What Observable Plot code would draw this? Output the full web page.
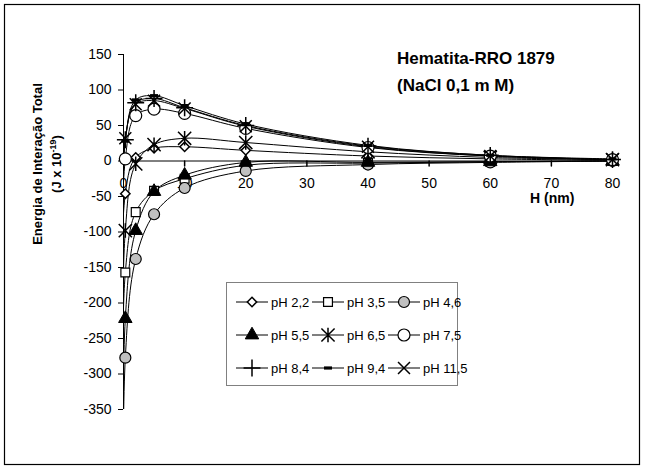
<!DOCTYPE html>
<html><head><meta charset="utf-8">
<script src="https://cdn.jsdelivr.net/npm/d3@7"></script>
<script src="https://cdn.jsdelivr.net/npm/@observablehq/plot@0.6"></script>
<style>
body{margin:0;background:#fff;}
#chart{width:645px;height:469px;}
</style></head><body><div id="chart"></div>
<script>
// Distance H (nm); first value is off-scale (curves plunge below -350 near H = 0)
const H = [0, 0.3, 2, 5, 10, 20, 40, 60, 80];
const seriesNames = ["pH 2,2", "pH 3,5", "pH 4,6", "pH 5,5", "pH 6,5", "pH 7,5", "pH 8,4", "pH 9,4", "pH 11,5"];
const pH22  = [-700,  -46,    5,  18,  20,  15,  7,  3, 1];
const pH35  = [-700, -157,  -72, -42, -25,  -6, -3, -1, 0];
const pH46  = [-700, -277, -138, -75, -38, -14, -5, -2, 0];
const pH55  = [-700, -222,  -98, -43, -20,  -2, -2, -1, 0];
const pH65  = [-700,  -98,   -4,  23,  32,  26, 13,  5, 2];
const pH75  = [-700,    3,   64,  73,  67,  46, 19,  7, 2];
const pH84  = [-700,   30,   82,  88,  75,  50, 21,  8, 2];
const pH94  = [-700,   28,   86,  92,  78,  52, 22,  8, 3];
const pH115 = [-700,   32,   80,  85,  74,  49, 20,  7, 2];
const values = [pH22, pH35, pH46, pH55, pH65, pH75, pH84, pH94, pH115];
const yTicks = [-350, -300, -250, -200, -150, -100, -50, 0, 50, 100, 150];
const xTicks = [0, 10, 20, 30, 40, 50, 60, 70, 80];

// custom marker shapes
const starX = {draw(c, size){ const r = Math.sqrt(size)*0.62; c.moveTo(-r,-r); c.lineTo(r,r); c.moveTo(-r,r); c.lineTo(r,-r); c.moveTo(0,-r*1.1); c.lineTo(0,r*1.1);} };
const dash = {draw(c, size){ const w = Math.sqrt(size)*0.9; c.rect(-w/2, -1.6, w, 3.2);} };
const markers = [
  {symbol: "diamond2", fill: "white", r: 4.2, sw: 1.5},
  {symbol: "square", fill: "white", r: 5, sw: 1.2},
  {symbol: "circle", fill: "#c0c0c0", r: 5.5, sw: 1.2},
  {symbol: "triangle", fill: "black", r: 5, sw: 1},
  {symbol: starX, fill: "none", r: 6, sw: 1.5},
  {symbol: "circle", fill: "white", r: 6, sw: 1.2},
  {symbol: "plus", fill: "none", r: 5.5, sw: 1.5},
  {symbol: dash, fill: "black", r: 5, sw: 0},
  {symbol: "times", fill: "none", r: 5.5, sw: 1.5}
];

const rows = [];
seriesNames.forEach((s, i) => H.forEach((h, j) => rows.push({s, i, H: h, v: values[i][j]})));

const marks = [
  Plot.ruleY([0], {stroke: "black"}),
  Plot.ruleX([0], {y1: -350, y2: 150, stroke: "black"}),
  Plot.vector(xTicks.slice(1), {x: d => d, y: 0, length: 5, rotate: 180, anchor: "start", stroke: "black",
    shape: {draw(c, l){ c.moveTo(0,0); c.lineTo(0,-l); }}}),
  Plot.text(xTicks, {x: d => d, y: 0, dy: 23, text: d => String(d), fontSize: 14, fill: "black"}),
  Plot.axisY({ticks: yTicks, tickSize: 5, tickPadding: 7, fontSize: 14, label: null, tickFormat: d => String(d)}),
  Plot.line(rows, {x: "H", y: "v", z: "s", curve: "catmull-rom", stroke: "black", strokeWidth: 1, clip: true})
];
markers.forEach((m, i) => {
  marks.push(Plot.dot(rows.filter(d => d.i === i && d.H > 0 && d.v >= -350), {
    x: "H", y: "v", symbol: m.symbol, r: m.r, fill: m.fill, stroke: m.sw ? "black" : "none", strokeWidth: m.sw
  }));
});

const svg = Plot.plot({
  width: 645, height: 469,
  marginLeft: 123, marginRight: 33, marginTop: 54, marginBottom: 60,
  style: {fontFamily: "'Liberation Sans', Arial, sans-serif", fontSize: "14px", background: "white", color: "black", overflow: "visible"},
  x: {domain: [0, 80], axis: null},
  y: {domain: [-350, 150], axis: null},
  marks
});

const g = d3.select(svg);
g.append("rect").attr("x", 4.5).attr("y", 4.5).attr("width", 635).attr("height", 460)
  .attr("fill", "none").attr("stroke", "black").attr("stroke-width", 1.2);

const ff = "'Liberation Sans', Arial, sans-serif";
g.append("text").attr("x", 397).attr("y", 64).attr("text-anchor", "start").attr("font-family", ff).attr("font-size", 17).attr("font-weight", "bold").text("Hematita-RRO 1879");
g.append("text").attr("x", 397).attr("y", 91).attr("text-anchor", "start").attr("font-family", ff).attr("font-size", 17).attr("font-weight", "bold").text("(NaCl 0,1 m M)");
g.append("text").attr("x", 530).attr("y", 203).attr("text-anchor", "start").attr("font-family", ff).attr("font-size", 14).attr("font-weight", "bold").text("H (nm)");

g.append("text").attr("transform", "translate(42,164) rotate(-90)").attr("text-anchor", "middle")
  .attr("font-family", ff).attr("font-size", 13).attr("font-weight", "bold").text("Energia de Interação Total");
const yl2 = g.append("text").attr("transform", "translate(61,164) rotate(-90)").attr("text-anchor", "middle")
  .attr("font-family", ff).attr("font-size", 13).attr("font-weight", "bold");
yl2.append("tspan").text("(J x 10");
yl2.append("tspan").attr("font-size", 9).attr("dy", -5).text("-19");
yl2.append("tspan").attr("dy", 5).text(")");

// legend
const L = g.append("g");
L.append("rect").attr("x", 226.5).attr("y", 282.5).attr("width", 231).attr("height", 103)
  .attr("fill", "white").attr("stroke", "#808080");
seriesNames.forEach((s, i) => {
  const col = i % 3, row = Math.floor(i / 3);
  const x0 = 236 + col * 76, y0 = 302 + row * 33;
  L.append("line").attr("x1", x0).attr("x2", x0 + 32).attr("y1", y0).attr("y2", y0).attr("stroke", "black");
  const m = markers[i];
  const sym = typeof m.symbol === "string" ? ({diamond2: d3.symbolDiamond2, square: d3.symbolSquare, circle: d3.symbolCircle, triangle: d3.symbolTriangle, plus: d3.symbolPlus, times: d3.symbolTimes})[m.symbol] : m.symbol;
  L.append("path").attr("transform", `translate(${x0 + 16},${y0})`)
    .attr("d", d3.symbol(sym, Math.PI * m.r * m.r)())
    .attr("fill", m.fill).attr("stroke", m.sw ? "black" : "none").attr("stroke-width", m.sw);
  L.append("text").attr("x", x0 + 35).attr("y", y0 + 5).attr("text-anchor", "start").attr("font-family", ff).attr("font-size", 13).text(s);
});

document.getElementById("chart").appendChild(svg);
</script>
</body></html>
